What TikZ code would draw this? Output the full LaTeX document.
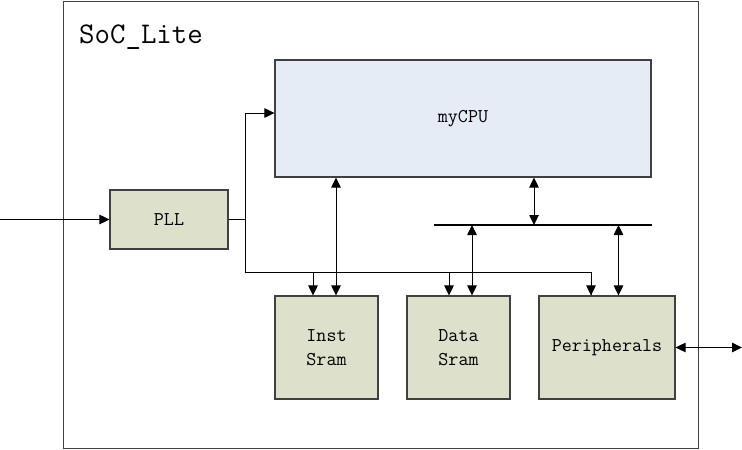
\documentclass[tikz,border=0pt]{standalone}
\usetikzlibrary{arrows.meta,calc}
\definecolor{cpufill}{RGB}{230,236,246}
\definecolor{blkfill}{RGB}{221,225,204}
\definecolor{edge}{RGB}{64,64,64}
\tikzset{
  blk/.style={draw=edge, line width=1.1pt, inner sep=0pt, align=center,
              font=\ttfamily\fontsize{19.5}{24}\selectfont},
  wire/.style={line width=0.9pt, black},
  arr/.style={wire, -{Triangle[length=10pt,width=9.5pt]}},
  darr/.style={wire, {Triangle[length=10pt,width=9.5pt]}-{Triangle[length=10pt,width=9.5pt]}},
  bus/.style={line width=2.6pt, black}
}
\begin{document}
\begin{tikzpicture}[x=1pt,y=-1pt]
\useasboundingbox (0,0) rectangle (742,450);
\fill[white] (0,0) rectangle (742,450);
% outer SoC box
\node[draw=edge, line width=1pt, minimum width=635pt, minimum height=446.5pt, inner sep=0pt] (soc) at (380.5,224.75) {};
\node[anchor=west, font=\ttfamily\fontsize{30}{34}\selectfont, inner sep=0pt] (title) at (79,37) {SoC\_Lite};
% blocks
\node[blk, fill=cpufill, minimum width=376pt, minimum height=117pt] (cpu) at (463,118.5) {myCPU};
\node[blk, fill=blkfill, minimum width=118pt, minimum height=59pt] (pll) at (169,219.5) {PLL};
\node[blk, fill=blkfill, minimum width=103pt, minimum height=103pt] (inst) at (326.5,347.5) {Inst\\Sram};
\node[blk, fill=blkfill, minimum width=103pt, minimum height=103pt] (data) at (458.5,347.5) {Data\\Sram};
\node[blk, fill=blkfill, minimum width=136pt, minimum height=103pt] (peri) at (607,347.5) {Peripherals};
% coordinates
\coordinate (in) at (0,219.5);
\coordinate (out) at (742,347.5);
\coordinate (busL) at (434,225);
\coordinate (busR) at (652,225);
\coordinate (jA) at (245,219.5);
\coordinate (jB) at (245,272);
\coordinate (jE) at (591,272);
% input clock
\draw[arr] (in) -- (pll.west);
% PLL outputs
\draw[arr] (pll.east) -- (jA) |- ([yshift=5.5pt]cpu.west);
\draw[wire] (jA) -- (jB) -- (jE) -- ([xshift=-16pt]peri.north);
\draw[arr] ([xshift=-13.5pt]inst.north |- jB) -- ([xshift=-13.5pt]inst.north);
\draw[arr] ([xshift=-9.5pt]data.north |- jB) -- ([xshift=-9.5pt]data.north);
\draw[arr] ([xshift=-16pt]peri.north |- jB) -- ([xshift=-16pt]peri.north);
% bus
\draw[bus] (busL) -- (busR);
% CPU to inst sram
\path ([xshift=9.5pt]inst.north) coordinate (a1);
\draw[darr] (a1 |- cpu.south) -- (a1);
% CPU to bus
\path ([xshift=71pt]cpu.south) coordinate (a2);
\draw[darr] (a2) -- (a2 |- busL);
% bus to data sram
\path ([xshift=13.5pt]data.north) coordinate (a3);
\draw[darr] (a3 |- busL) -- (a3);
% bus to peripherals
\path ([xshift=11.5pt]peri.north) coordinate (a4);
\draw[darr] (a4 |- busL) -- (a4);
% peripherals external
\draw[darr] (peri.east) -- (out);
\end{tikzpicture}
\end{document}
